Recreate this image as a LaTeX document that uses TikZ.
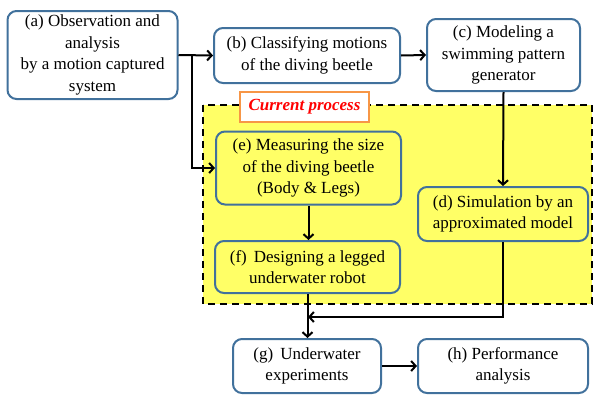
\documentclass[tikz,border=0pt]{standalone}
\usepackage{fontspec}
\setmainfont{Liberation Serif}
\usetikzlibrary{arrows.meta}
\definecolor{bord}{HTML}{41719C}
\definecolor{yel}{HTML}{FFFF66}
\definecolor{orng}{HTML}{F79646}
\begin{document}
\begin{tikzpicture}[x=1pt,y=-1pt,
  box/.style={draw=bord,line width=2pt,rounded corners=9pt,fill=white,align=center,inner sep=0pt,
    font=\fontsize{17}{21.5}\selectfont},
  ybox/.style={box,fill=yel},
  arr/.style={-{Straight Barb[length=4.5pt,width=10pt,line width=2pt]},line width=2pt,black}]
\useasboundingbox (0,0) rectangle (594,394);
\fill[yel] (203,105) rectangle (592,304);
\draw[line width=1.8pt,dash pattern=on 7pt off 5pt] (203,105) rectangle (592,304);
\node[draw=orng,line width=1.8pt,fill=white,minimum width=129pt,minimum height=30pt,inner sep=0pt,
  text=red,font=\fontsize{17}{20}\selectfont\bfseries\itshape] (cur) at (304.5,107) {Current process};
\node[box,minimum width=170pt,minimum height=88pt] (a) at (92.5,55) {(a) Observation and\\analysis\\by a motion captured\\system};
\node[box,minimum width=186pt,minimum height=55pt] (b) at (307,55.5) {(b) Classifying motions\\of the diving beetle};
\node[box,minimum width=153pt,minimum height=72pt] (c) at (503.5,55) {(c) Modeling a\\swimming pattern\\generator};
\node[ybox,minimum width=185pt,minimum height=73pt] (e) at (308.5,168) {(e) Measuring the size\\of the diving beetle\\(Body \& Legs)};
\node[ybox,minimum width=185pt,minimum height=52pt] (f) at (307.5,267) {(f)\, Designing a legged\\underwater robot};
\node[ybox,minimum width=170pt,minimum height=54pt] (d) at (503,214) {(d) Simulation by an\\approximated model};
\node[box,minimum width=148pt,minimum height=54pt] (g) at (307,366) {(g)\, Underwater\\experiments};
\node[box,minimum width=170pt,minimum height=54pt] (h) at (503,366) {(h) Performance\\analysis};
\coordinate (br) at (192,55);
\coordinate (m) at (308,317);
\draw[arr] (a.east) -- (b.west);
\draw[arr] (br) |- (e.west);
\draw[arr] (b.east) -- (c.west);
\draw[arr] (c.south) -- (d.north);
\draw[arr] (e.south) -- (e.south|-f.north);
\draw[arr] (f.south) -- (f.south|-g.north);
\draw[arr] (d.south) |- (m);
\draw[arr] (g.east) -- (h.west);
\end{tikzpicture}
\end{document}
